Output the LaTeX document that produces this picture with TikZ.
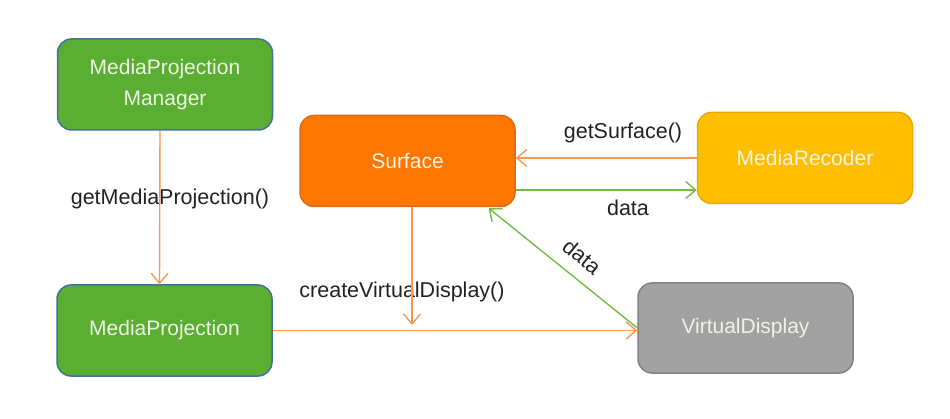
\documentclass[tikz,border=0pt]{standalone}
\usepackage{fontspec}
\setmainfont{Liberation Sans}
\usepackage{xcolor}
\usepackage{tikz}
\usetikzlibrary{positioning, arrows.meta}

\definecolor{mpgreen}{RGB}{90,174,50}
\definecolor{mpblue}{RGB}{65,113,156}
\definecolor{sforange}{RGB}{255,119,0}
\definecolor{sfedge}{RGB}{224,104,20}
\definecolor{rcyellow}{RGB}{255,191,0}
\definecolor{rcedge}{RGB}{232,170,0}
\definecolor{vdgray}{RGB}{162,162,162}
\definecolor{vdedge}{RGB}{128,128,128}
\definecolor{wireorange}{RGB}{246,152,84}
\definecolor{wiregreen}{RGB}{112,190,70}
\definecolor{boxtext}{RGB}{238,244,228}
\definecolor{lbltext}{RGB}{34,34,34}

\tikzset{
	block/.style={rounded corners=14pt, line width=1.5pt, minimum width=215pt, minimum height=91pt,
		align=center, text=boxtext, font=\fontsize{21}{31}\selectfont},
	orangewire/.style={draw=wireorange, line width=1.4pt, -{Straight Barb[length=10pt, width=17pt]}},
	greenwire/.style={draw=wiregreen, line width=1.4pt, -{Straight Barb[length=10pt, width=17pt]}},
	lbl/.style={text=lbltext, font=\fontsize{21.5}{24}\selectfont}
}

\begin{document}
\begin{tikzpicture}[x=1pt, y=-1pt]
	\useasboundingbox (0,0) rectangle (950,419);
	% Blocks:
	\node[block, fill=mpgreen, draw=mpblue] (mpm) at (165, 84.5){MediaProjection\\Manager};
	\node[block, fill=sforange, draw=sfedge] (surface) at (407.5, 161){Surface};
	\node[block, fill=rcyellow, draw=rcedge] (recoder) at (805, 158){MediaRecoder};
	\node[block, fill=mpgreen, draw=mpblue] (mproj) at (164.5, 330.5){MediaProjection};
	\node[block, fill=vdgray, draw=vdedge, minimum height=90pt] (vdisplay) at (745.5, 328){VirtualDisplay};
	% Labels:
	\node[lbl] (getmp) at (170, 199){getMediaProjection()};
	\node[lbl] (getsf) at (623, 133){getSurface()};
	\node[lbl] (data1) at (628, 208){data};
	\node[lbl] (createvd) at (402, 292){createVirtualDisplay()};
	\coordinate (vdend) at (412, 325);
	% Wires:
	\draw[orangewire] ([xshift=-5pt]mpm.south) -- ([xshift=-5pt]mproj.north);
	\draw[orangewire] (recoder.west) -- (surface.east |- recoder.west);
	\draw[greenwire] ([yshift=-29pt]surface.east) -- ([yshift=-32pt]recoder.west);
	\draw[greenwire] (vdisplay.west) -- node[lbl, sloped, above=9pt, pos=0.46]{data} ([xshift=-27pt, yshift=-1pt]surface.south east);
	\draw[orangewire] ([xshift=4.5pt]surface.south) -- (vdend);
	\draw[orangewire] (mproj.east) -- (mproj.east -| vdisplay.west);
\end{tikzpicture}
\end{document}
